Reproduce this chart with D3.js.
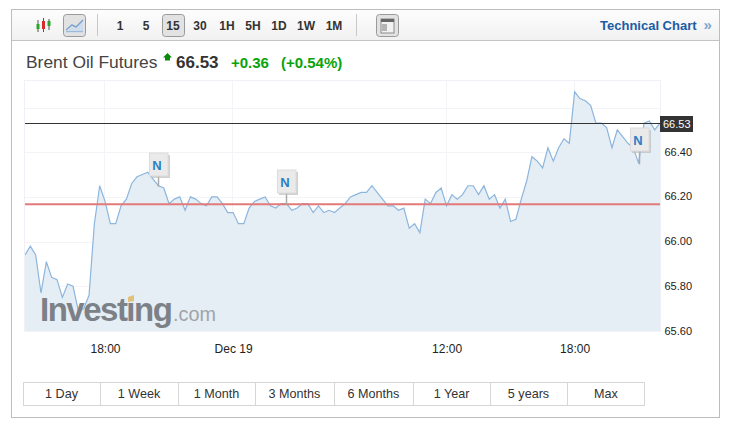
<!DOCTYPE html>
<html><head><meta charset="utf-8">
<script src="https://cdn.jsdelivr.net/npm/d3@7"></script>
<style>html,body{margin:0;padding:0;background:#fff}svg{display:block}text{font-family:"Liberation Sans",Arial,sans-serif}</style>
</head><body><svg id="c" width="739" height="425"></svg>
<script>
const prices=[65.94,65.98,65.94,65.77,65.91,65.84,65.83,65.75,65.81,65.80,65.69,65.70,65.76,66.08,66.25,66.18,66.08,66.08,66.16,66.19,
66.26,66.29,66.30,66.31,66.28,66.25,66.24,66.17,66.19,66.20,66.14,66.20,66.19,66.17,66.16,66.20,66.20,66.17,66.13,66.13,
66.08,66.08,66.15,66.18,66.19,66.20,66.16,66.15,66.17,66.17,66.14,66.15,66.17,66.17,66.13,66.16,66.13,66.14,66.13,66.15,
66.17,66.20,66.21,66.22,66.22,66.25,66.22,66.19,66.16,66.16,66.14,66.15,66.06,66.08,66.04,66.19,66.17,66.22,66.24,66.16,
66.21,66.19,66.21,66.25,66.25,66.21,66.25,66.19,66.21,66.15,66.19,66.09,66.10,66.19,66.27,66.38,66.36,66.33,66.42,66.36,
66.42,66.46,66.44,66.67,66.64,66.63,66.61,66.53,66.53,66.51,66.42,66.50,66.47,66.44,66.42,66.35,66.53,66.54,66.50,66.53];
const yTicks=[65.6,65.8,66.0,66.2,66.4];
const xTickIdx=[15,39,79,103];
const xTickLabels=["18:00","Dec 19","12:00","18:00"];
const newsIdx=[25,49,115];
const newsTop=[153,170,128];
const lastPrice=66.53, refPrice=66.167;
const intervals=["1","5","15","30","1H","5H","1D","1W","1M"];
const intervalX=[120,146,173,200,227,253,279,306,334];
const ranges=["1 Day","1 Week","1 Month","3 Months","6 Months","1 Year","5 years","Max"];
const rangeEdges=[23,100,178,255,334,413,490,567,645];

const svg=d3.select("#c");
const defs=svg.append("defs");
const g=defs.append("linearGradient").attr("id","tb").attr("x1",0).attr("x2",0).attr("y1",0).attr("y2",1);
g.append("stop").attr("offset",0).attr("stop-color","#fdfdfd");
g.append("stop").attr("offset",1).attr("stop-color","#f1f1f1");
const pL=25,pR=660,pT=81,pB=331;
defs.append("clipPath").attr("id","plot").append("rect").attr("x",pL).attr("y",pT).attr("width",pR-pL).attr("height",pB-pT);

// frame
svg.append("rect").attr("x",11.5).attr("y",9.5).attr("width",708).attr("height",408).attr("fill","#fff").attr("stroke","#bdbdbd");
svg.append("rect").attr("x",12).attr("y",10).attr("width",707).attr("height",30).attr("fill","url(#tb)");
svg.append("line").attr("x1",12).attr("x2",719).attr("y1",40.5).attr("y2",40.5).attr("stroke","#c4c4c4");

// toolbar icons
const btn=(x0,w)=>svg.append("rect").attr("x",x0).attr("y",14.5).attr("width",w).attr("height",22).attr("rx",3).attr("fill","#e2e2e2").attr("stroke","#9a9a9a");
[[38,"#555",20,32,"#2aa52a",24,29],[43.5,"#555",18,32,"#d92b2b",21,29],[49,"#555",19,30,"#2aa52a",21,26]].forEach(c=>{
  svg.append("line").attr("x1",c[0]).attr("x2",c[0]).attr("y1",c[2]).attr("y2",c[3]).attr("stroke",c[1]);
  svg.append("rect").attr("x",c[0]-1.5).attr("y",c[5]).attr("width",3).attr("height",c[6]-c[5]).attr("fill",c[4]);
});
btn(63.5,22);
svg.append("path").attr("d","M66 32L72 27L76 29L83 21V33H66Z").attr("fill","#cfdcec");
svg.append("path").attr("d","M66 30L72 25L76 27L83 20").attr("fill","none").attr("stroke","#7ea6d2").attr("stroke-width",1.5);
svg.append("line").attr("x1",66).attr("x2",83).attr("y1",31.5).attr("y2",31.5).attr("stroke","#9db9d8");
[97.5,356.5].forEach(v=>svg.append("line").attr("x1",v).attr("x2",v).attr("y1",14).attr("y2",36).attr("stroke","#c8c8c8"));
btn(162.5,22);
btn(376.5,22);
svg.append("rect").attr("x",381).attr("y",19).attr("width",13).attr("height",14).attr("fill","#f2f2f2").attr("stroke","#8a8a8a");
svg.append("rect").attr("x",381).attr("y",19).attr("width",13).attr("height",3).attr("fill","#666");
svg.append("rect").attr("x",382).attr("y",24).attr("width",5).attr("height",7).attr("fill","#b5b5b5");
svg.selectAll(".iv").data(intervals).join("text").attr("class","iv")
  .attr("x",(d,i)=>intervalX[i]).attr("y",29.5).attr("text-anchor","middle")
  .attr("font-size",12).attr("font-weight","bold").attr("fill","#333").text(d=>d);
svg.append("text").attr("x",600).attr("y",30).attr("font-size",13).attr("font-weight","bold").attr("fill","#1c5ca6").text("Technical Chart");
svg.append("text").attr("x",703.5).attr("y",30).attr("font-size",15).attr("font-weight","bold").attr("fill","#7fa6d1").text("»");

// header
svg.append("text").attr("x",26).attr("y",68).attr("font-size",17.4).attr("fill","#444").text("Brent Oil Futures");
svg.append("path").attr("d","M167.5 53L172 57.5H170V60.5H165V57.5H163Z").attr("fill","#0a8a0a");
svg.append("text").attr("x",176).attr("y",68).attr("font-size",17).attr("font-weight","bold").attr("fill","#333").text("66.53");
svg.append("text").attr("x",231).attr("y",68).attr("font-size",15).attr("font-weight","bold").attr("fill","#0aa30a").text("+0.36");
svg.append("text").attr("x",281).attr("y",68).attr("font-size",15).attr("font-weight","bold").attr("fill","#0aa30a").text("(+0.54%)");

// scales
const x=d3.scaleLinear().domain([0,prices.length-1]).range([pL,pR]);
const y=d3.scaleLinear().domain([65.6,66.6]).range([pB,107.5]);

// plot grid
svg.append("rect").attr("x",pL-.5).attr("y",pT-.5).attr("width",pR-pL+1).attr("height",pB-pT+1).attr("fill","#fff").attr("stroke","#f0f0f6");
const gridVals=[...yTicks,66.6];
svg.selectAll(".hg").data(gridVals).join("line").attr("class","hg")
  .attr("x1",pL).attr("x2",pR).attr("y1",d=>Math.round(y(d))+.5).attr("y2",d=>Math.round(y(d))+.5).attr("stroke","#f3f3f8");
svg.selectAll(".vg").data(xTickIdx).join("line").attr("class","vg")
  .attr("x1",d=>Math.round(x(d))-.5).attr("x2",d=>Math.round(x(d))-.5).attr("y1",pT).attr("y2",pB).attr("stroke","#f3f3f8");

// series
const plot=svg.append("g").attr("clip-path","url(#plot)");
plot.append("path").datum(prices).attr("fill","#e4ecf4").attr("fill-opacity",.95)
  .attr("d",d3.area().x((d,i)=>x(i)).y0(pB).y1(d=>y(d)));
// watermark
const wm=svg.append("g");
wm.append("text").attr("x",40).attr("y",321).attr("font-size",33).attr("font-weight","bold").attr("letter-spacing",-1.5).attr("fill","#7c8187").text("Investing");
wm.append("text").attr("x",173).attr("y",321).attr("font-size",19.8).attr("fill","#a0a4a8").text(".com");
wm.append("path").attr("d","M128 297L134 295V301L128 302Z").attr("fill","#e3c078");

plot.append("path").datum(prices).attr("fill","none").attr("stroke","#8cb6de").attr("stroke-width",1.2)
  .attr("d",d3.line().x((d,i)=>x(i)).y(d=>y(d)));

// reference lines
svg.append("line").datum(refPrice).attr("x1",pL).attr("x2",pR).attr("y1",d=>y(d)).attr("y2",d=>y(d)).attr("stroke","#e27a7a").attr("stroke-width",2);
svg.append("line").attr("x1",pL).attr("x2",pR+2).attr("y1",Math.round(y(lastPrice))+.5).attr("y2",Math.round(y(lastPrice))+.5).attr("stroke","#333");
svg.append("rect").attr("x",660).attr("y",116).attr("width",33).attr("height",16).attr("fill","#333");
svg.append("text").attr("x",663).attr("y",128).attr("font-size",11).attr("fill","#fff").text(lastPrice.toFixed(2));

// y axis labels
svg.selectAll(".yl").data(yTicks).join("text").attr("class","yl").attr("x",664.5).attr("y",d=>y(d)+3.5)
  .attr("font-size",11).attr("fill","#222").text(d=>d.toFixed(2));
// x axis labels
svg.selectAll(".xl").data(xTickIdx).join("text").attr("class","xl").attr("x",d=>x(d)+.5).attr("y",353).attr("text-anchor","middle")
  .attr("font-size",12).attr("fill","#222").text((d,i)=>xTickLabels[i]);

// news flags
newsIdx.forEach((k,i)=>{
  const cx=Math.round(x(k))+.5, t=newsTop[i];
  const f=svg.append("g");
  f.append("line").attr("x1",cx).attr("x2",cx).attr("y1",t+20).attr("y2",y(prices[k])+1).attr("stroke","#a9a9a9").attr("stroke-width",1.5);
  f.append("rect").attr("x",cx-7.5).attr("y",t+2).attr("width",19).attr("height",23).attr("fill","#bdbdbd").attr("fill-opacity",.7);
  f.append("rect").attr("x",cx-9).attr("y",t).attr("width",18.5).attr("height",23).attr("fill","#eaeaea").attr("stroke","#dcdcdc");
  f.append("text").attr("x",cx-1.5).attr("y",t+16.5).attr("text-anchor","middle").attr("font-size",13).attr("font-weight","bold").attr("fill","#2c7fc7").text("N");
});

// range buttons
svg.append("rect").attr("x",23.5).attr("y",382.5).attr("width",621).attr("height",23).attr("fill","#fff").attr("stroke","#d6d6d6");
rangeEdges.slice(1,-1).forEach(e=>svg.append("line").attr("x1",e+.5).attr("x2",e+.5).attr("y1",383).attr("y2",405).attr("stroke","#d6d6d6"));
svg.selectAll(".rg").data(ranges).join("text").attr("class","rg")
  .attr("x",(d,i)=>(rangeEdges[i]+rangeEdges[i+1])/2).attr("y",398).attr("text-anchor","middle")
  .attr("font-size",12.6).attr("fill","#333").text(d=>d);
</script></body></html>
